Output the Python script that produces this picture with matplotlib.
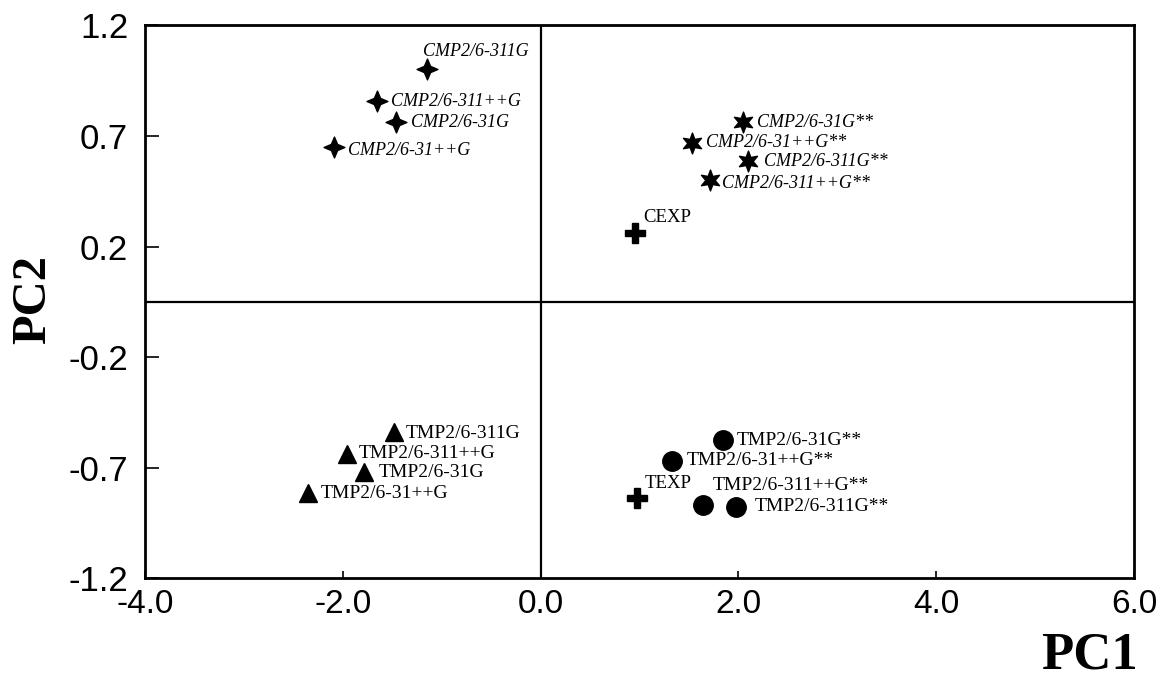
import numpy as np
import matplotlib.pyplot as plt
from matplotlib.path import Path

# PCA scores
cmp_names = ["CMP2/6-311G", "CMP2/6-311++G", "CMP2/6-31G", "CMP2/6-31++G"]
cmp_pc1 = [-1.15, -1.65, -1.46, -2.09]
cmp_pc2 = [1.01, 0.87, 0.78, 0.67]

cmpd_names = ["CMP2/6-31G**", "CMP2/6-31++G**", "CMP2/6-311G**", "CMP2/6-311++G**"]
cmpd_pc1 = [2.05, 1.53, 2.10, 1.71]
cmpd_pc2 = [0.78, 0.69, 0.61, 0.53]

tmp_names = ["TMP2/6-311G", "TMP2/6-311++G", "TMP2/6-31G", "TMP2/6-31++G"]
tmp_pc1 = [-1.48, -1.96, -1.78, -2.35]
tmp_pc2 = [-0.565, -0.66, -0.74, -0.83]

tmpd_names = ["TMP2/6-31G**", "TMP2/6-31++G**", "TMP2/6-311++G**", "TMP2/6-311G**"]
tmpd_pc1 = [1.84, 1.325, 1.645, 1.98]
tmpd_pc2 = [-0.60, -0.69, -0.88, -0.89]

exp_names = ["CEXP", "TEXP"]
exp_pc1 = [0.95, 0.97]
exp_pc2 = [0.30, -0.85]

xticks = [-4.0, -2.0, 0.0, 2.0, 4.0, 6.0]
yticks = np.linspace(-1.2, 1.2, 6)

# label offsets in points (default: right of marker)
right = (10, 0)
cmp_off = [(-3, 13), right, (11, 0), (10, -2)]
cmpd_off = [right, right, (11, 0), (9, -3)]
tmp_off = [(8, -1), (9, 0), (10, 0), (9, 0)]
tmpd_off = [right, (11, 0), (7, 14), (13, 0)]
exp_off = [(6, 11), (6, 10)]


def star_marker(npts, inner):
    # star path with concave sides, first point straight up
    ang = np.pi / 2 + np.arange(2 * npts) * np.pi / npts
    r = np.where(np.arange(2 * npts) % 2 == 0, 1.0, inner)
    verts = np.column_stack([r * np.cos(ang), r * np.sin(ang)])
    verts = np.vstack([verts, verts[:1]])
    return Path(verts, closed=True)


fig = plt.figure(figsize=(11.68, 6.86), dpi=100)
ax = fig.add_axes([0.124, 0.157, 0.847, 0.806])

ax.axhline(0, color="black", lw=1.6, zorder=1)
ax.axvline(0, color="black", lw=1.6, zorder=1)


def draw(xs, ys, names, offs, marker, ms, style, fs):
    ax.plot(xs, ys, linestyle="none", marker=marker, markersize=ms,
            color="black", markeredgecolor="black", zorder=3)
    for x, y, n, o in zip(xs, ys, names, offs):
        ax.annotate(n, (x, y), xytext=o, textcoords="offset points",
                    ha="left", va="center", fontsize=fs,
                    family="Liberation Serif", style=style)


draw(cmp_pc1, cmp_pc2, cmp_names, cmp_off, star_marker(4, 0.42), 15, "italic", 13)
draw(cmpd_pc1, cmpd_pc2, cmpd_names, cmpd_off, star_marker(6, 0.45), 15, "italic", 13)
draw(tmp_pc1, tmp_pc2, tmp_names, tmp_off, "^", 13, "normal", 14)
draw(tmpd_pc1, tmpd_pc2, tmpd_names, tmpd_off, "o", 14, "normal", 14)
draw(exp_pc1, exp_pc2, exp_names, exp_off, "P", 14, "normal", 13.5)

ax.set_xlim(-4, 6)
ax.set_ylim(-1.2, 1.2)
ax.set_xticks(xticks)
ax.set_xticklabels([f"{v:.1f}" for v in xticks],
                   family="Liberation Sans", fontsize=24)
ax.set_yticks(yticks)
ax.set_yticklabels([f"{v:.1f}" for v in yticks],
                   family="Liberation Sans", fontsize=25)
ax.tick_params(axis="y", direction="in", length=10, width=1.2, pad=12)
ax.tick_params(axis="x", direction="in", length=5, width=1.2, pad=8)
for s in ax.spines.values():
    s.set_linewidth(2)

fig.text(0.933, 0.045, "PC1", ha="center", va="center", fontsize=38,
         family="Liberation Serif", weight="bold")
fig.text(0.028, 0.563, "PC2", ha="center", va="center", fontsize=35,
         family="Liberation Serif", weight="bold", rotation=90)

fig.savefig("out.png", dpi=100)
